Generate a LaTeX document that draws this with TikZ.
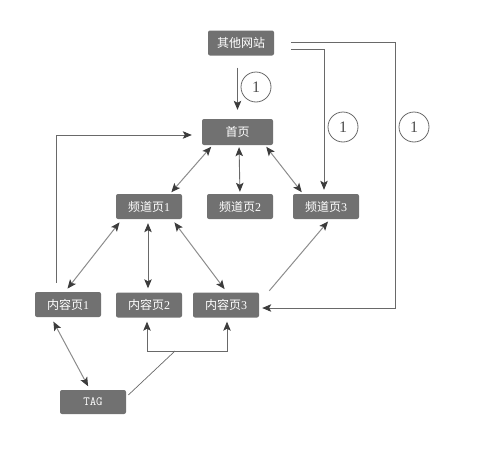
\documentclass[tikz,border=0pt]{standalone}
\usepackage{fontspec}
\setmainfont{Liberation Serif}
\newfontfamily\cjk{Noto Sans CJK SC}
\usetikzlibrary{arrows.meta,calc}
\definecolor{boxfill}{RGB}{113,113,113}
\definecolor{linec}{RGB}{105,105,105}
\definecolor{diagc}{RGB}{140,140,140}
\definecolor{tipc}{RGB}{60,60,60}
\begin{document}
\begin{tikzpicture}[x=1pt,y=-1pt,
  pagebox/.style={fill=boxfill, rounded corners=2pt, text=white,
    font=\cjk\fontsize{12}{12}\selectfont, minimum width=66pt,
    minimum height=25pt, inner sep=0pt},
  num/.style={circle, draw=linec, line width=0.8pt, minimum size=30pt,
    inner sep=0pt, font=\fontsize{16}{16}\selectfont, text=black!70},
  link/.style={draw=linec, line width=0.9pt},
  diag/.style={draw=diagc, line width=1pt},
  tipend/.style={-{Stealth[length=9pt,width=7.5pt,inset=2pt,color=tipc]}},
  tipboth/.style={{Stealth[length=9pt,width=7.5pt,inset=2pt,color=tipc]}-{Stealth[length=9pt,width=7.5pt,inset=2pt,color=tipc]}}
]
\useasboundingbox (0,0) rectangle (480,450);

% nodes
\node[pagebox] (web) at (241,43) {其他网站};
\node[pagebox, minimum width=71pt, minimum height=26pt] (home) at (237.5,132) {首页};
\node[pagebox] (c1) at (149,206.5) {频道页{\rmfamily 1}};
\node[pagebox] (c2) at (240,206.5) {频道页{\rmfamily 2}};
\node[pagebox] (c3) at (326,206.5) {频道页{\rmfamily 3}};
\node[pagebox] (p1) at (68,304.5) {内容页{\rmfamily 1}};
\node[pagebox] (p2) at (149,305) {内容页{\rmfamily 2}};
\node[pagebox] (p3) at (226,305) {内容页{\rmfamily 3}};
\node[pagebox, minimum height=24pt, font=\ttfamily\fontsize{12.5}{13}\selectfont] (tag) at (93,402) {TAG};

\node[num] (n1) at (256,87) {1};
\node[num] (n2) at (343,127) {1};
\node[num] (n3) at (414,127) {1};

\coordinate (rc) at (395,308);
\coordinate (fk) at (175,351);

% connectors from external site
\draw[link, tipend, shorten <=12pt, shorten >=9pt] (web.south -| home.north) -- (home.north);
\draw[link, tipend, shorten <=17pt, shorten >=4pt] ([yshift=-6pt]web.east) -| ([xshift=-2pt]c3.north);
\draw[link, tipend, shorten <=17pt, shorten >=3pt] ([yshift=1pt]web.east) -| (rc) -- (rc -| p3.east);

% content page 1 back to home
\draw[link, tipend, shorten <=9pt, shorten >=10pt] ([xshift=-12pt]p1.north) |- ([yshift=-3pt]home.west);

% home <-> channels
\draw[diag, tipboth, shorten <=2pt, shorten >=2pt] ([xshift=-25pt]home.south) -- ([xshift=21pt]c1.north);
\draw[link, tipboth, shorten <=2pt, shorten >=2pt] ([xshift=1.5pt]home.south) -- (c2.north);
\draw[diag, tipboth, shorten <=2pt, shorten >=2pt] ([xshift=27.5pt]home.south) -- ([xshift=-23pt]c3.north);

% channel 1 <-> content pages
\draw[diag, tipboth, shorten <=4pt, shorten >=4pt] ([xshift=-27pt]c1.south) -- ([xshift=-3pt]p1.north);
\draw[link, tipboth, shorten <=4pt, shorten >=4pt] ([xshift=-1pt]c1.south) -- ([xshift=-1pt]p2.north);
\draw[diag, tipboth, shorten <=4pt, shorten >=4pt] ([xshift=23pt]c1.south) -- ([xshift=1pt]p3.north);

% content 3 -> channel 3
\draw[diag, tipend, shorten <=2pt, shorten >=3pt] ([xshift=42pt]p3.north) -- ([xshift=4pt]c3.south);

% content 1 <-> tag
\draw[diag, tipboth, shorten <=5pt, shorten >=4pt] ([xshift=-17pt]p1.south) -- ([xshift=-3pt]tag.north);

% tag -> content 2, 3
\draw[link, line width=0.7pt, shorten <=3pt] ([yshift=5pt]tag.east) -- (fk);
\draw[link, tipend, shorten >=4pt] (fk) -| ([xshift=-2pt]p2.south);
\draw[link, tipend, shorten >=4pt] (fk) -| ([xshift=1pt]p3.south);
\end{tikzpicture}
\end{document}
